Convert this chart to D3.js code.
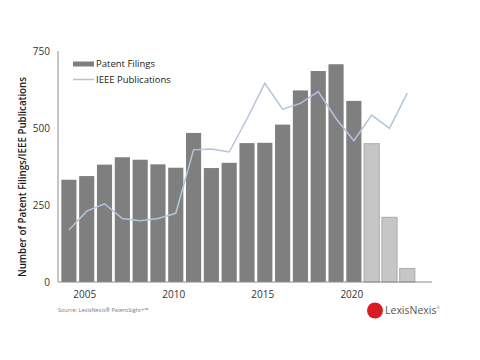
<!DOCTYPE html>
<html><head><meta charset="utf-8">
<script src="https://cdn.jsdelivr.net/npm/d3@7"></script>
<style>body{margin:0;background:#fff}svg{display:block}text{font-family:"Open Sans",Lato,sans-serif}</style>
</head><body>
<svg id="c" width="480" height="360"></svg>
<script>
const years = [2004,2005,2006,2007,2008,2009,2010,2011,2012,2013,2014,2015,2016,2017,2018,2019,2020,2021,2022,2023];
const patentFilings = [332,344,381,405,397,382,371,484,370,387,451,452,511,622,685,707,588,449,210,44];
const partialYears = [2021,2022,2023];
const ieeePublications = [169,230,254,206,199,206,223,429,432,422,530,645,561,580,618,531,459,542,499,613];
const yTicks = [0,250,500,750];
const xTicks = [2005,2010,2015,2020];

const svg = d3.select("#c");
const x = d3.scaleBand().domain(d3.range(2004,2025)).range([60,434]).paddingInner(0.15).paddingOuter(0.075);
const y = d3.scaleLinear().domain([0,750]).range([282,51]);

// bars
svg.append("g").selectAll("rect").data(years).join("rect")
  .attr("x", d=>x(d)).attr("width", x.bandwidth())
  .attr("y", (d,i)=>y(patentFilings[i])).attr("height",(d,i)=>y(0)-y(patentFilings[i]))
  .attr("fill", d=>partialYears.includes(d)?"#c6c6c6":"#7f7f7f")
  .attr("stroke", d=>partialYears.includes(d)?"#a9a9a9":"none").attr("stroke-width",1);

// line
const line = d3.line().x((d,i)=>x(years[i])+x.bandwidth()/2).y(d=>y(d));
svg.append("path").datum(ieeePublications).attr("d",line).attr("fill","none")
  .attr("stroke","#b4c4dc").attr("stroke-width",1.5);

// axes
svg.append("line").attr("x1",58).attr("x2",58).attr("y1",51).attr("y2",282).attr("stroke","#8c8c8c").attr("stroke-width",1);
svg.append("line").attr("x1",58).attr("x2",432).attr("y1",282).attr("y2",282).attr("stroke","#8c8c8c").attr("stroke-width",1.2);
svg.append("g").selectAll("text").data(yTicks).join("text")
  .attr("x",50).attr("y",d=>y(d)).attr("dy","0.35em").attr("text-anchor","end")
  .attr("font-size",10).attr("fill","#333").text(d=>d);
svg.append("g").selectAll("text").data(xTicks).join("text")
  .attr("x",d=>x(d)+x.bandwidth()/2-2).attr("y",294).attr("dy","0.35em").attr("text-anchor","middle")
  .attr("font-size",10).attr("fill","#333").text(d=>d);

svg.append("text").attr("transform","translate(26,177) rotate(-90)").attr("text-anchor","middle")
  .attr("font-size",11.5).attr("font-weight",600).attr("fill","#1a1a1a")
  .attr("textLength",200).attr("lengthAdjust","spacingAndGlyphs")
  .text("Number of Patent Filings/IEEE Publications");

// legend
svg.append("rect").attr("x",73).attr("y",61.5).attr("width",21).attr("height",5).attr("fill","#7f7f7f");
svg.append("text").attr("x",96).attr("y",64).attr("dy","0.35em").attr("font-size",9.5).attr("fill","#222").text("Patent Filings");
svg.append("line").attr("x1",73).attr("x2",94).attr("y1",79.5).attr("y2",79.5).attr("stroke","#b4c4dc").attr("stroke-width",1.5);
svg.append("text").attr("x",96).attr("y",79.5).attr("dy","0.35em").attr("font-size",9.5).attr("fill","#222").text("IEEE Publications");

// source
svg.append("text").attr("x",58).attr("y",310).attr("dy","0.35em").attr("font-size",5.5).attr("fill","#777").text("Source: LexisNexis® PatentSight+™");

// logo
svg.append("circle").attr("cx",375).attr("cy",310.5).attr("r",8).attr("fill","#d91c24");
const logo = svg.append("text").attr("x",385).attr("y",314).attr("font-size",10.5).attr("fill","#555");
logo.append("tspan").text("LexisNexis");
logo.append("tspan").attr("font-size",4).attr("dy",-5).attr("fill","#777").text("®");
</script>
</body></html>
